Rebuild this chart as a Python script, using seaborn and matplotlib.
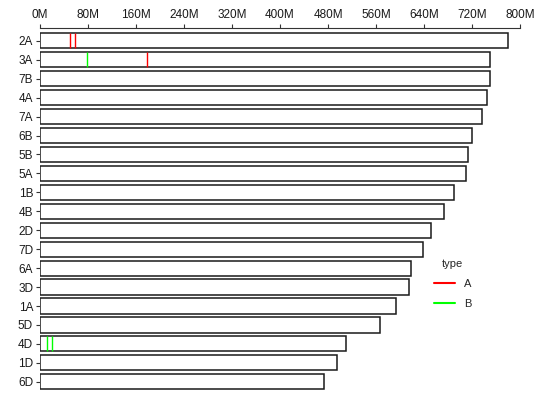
import matplotlib
matplotlib.use("Agg")
import matplotlib.pyplot as plt
from matplotlib.lines import Line2D
import pandas as pd
import seaborn as sns

# chromosome lengths in Mb, longest first
chroms = ['2A', '3A', '7B', '4A', '7A', '6B', '5B', '5A', '1B', '4B',
          '2D', '7D', '6A', '3D', '1A', '5D', '4D', '1D', '6D']
lengths = [780.8, 750.8, 750.6, 744.6, 737.0, 720.0, 713.1, 709.8, 689.9, 673.6,
           651.9, 638.7, 618.1, 615.6, 594.1, 566.1, 509.9, 495.5, 473.6]

# marked positions (Mb)
mark_chrom = ['2A', '2A', '3A', '3A', '4D', '4D']
mark_pos = [50.5, 58.5, 77.8, 177.8, 11.0, 20.5]
mark_type = ['A', 'A', 'B', 'A', 'B', 'B']

type_colors = {'A': '#FF0000', 'B': '#00FF00'}

chrDf = pd.DataFrame({'chrom': chroms, 'length': lengths})
markDf = pd.DataFrame({'chrom': mark_chrom, 'pos': mark_pos, 'type': mark_type})

sns.set_style('white')
plt.rcParams['font.family'] = ['Liberation Sans', 'DejaVu Sans']

fig = plt.figure(figsize=(5.45, 3.99), dpi=100)
ax = fig.add_axes([40 / 545, 1 - 394.6 / 399, 480 / 545, (394.6 - 28) / 399])

sns.barplot(data=chrDf, x='length', y='chrom', order=chroms, orient='h',
            color='white', saturation=1, edgecolor='#1a1a1a', linewidth=1.1,
            width=0.8, ax=ax)

# vertical marks spanning each chromosome bar
for _, row in markDf.iterrows():
    yi = chroms.index(row['chrom'])
    ax.vlines(row['pos'], yi - 0.4, yi + 0.4, color=type_colors[row['type']],
              linewidth=1.0, zorder=3)

ax.set_xlim(0, 800)
ax.set_ylim(len(chroms) - 1 + 0.676, -0.676)
ax.set_xticks(range(0, 801, 80))
ax.set_xticklabels([f'{v}M' for v in range(0, 801, 80)])
ax.xaxis.tick_top()
ax.set_xlabel('')
ax.set_ylabel('')

for side in ['left', 'right', 'bottom']:
    ax.spines[side].set_visible(False)
ax.spines['top'].set_color('#333333')
ax.spines['top'].set_linewidth(0.8)

ax.tick_params(axis='x', top=True, bottom=False, length=3, width=0.8,
               color='#333333', labelsize=8.5, labelcolor='#1a1a1a', pad=2)
ax.tick_params(axis='y', left=True, length=3, width=0.8, color='#333333',
               labelsize=8.5, labelcolor='#1a1a1a', pad=2)

handles = [Line2D([], [], color=type_colors[t], linewidth=1.5) for t in ['A', 'B']]
leg = ax.legend(handles, ['A', 'B'], title='type', frameon=False,
                loc='upper left', bbox_to_anchor=(434 / 545, 1 - 259 / 399),
                bbox_transform=fig.transFigure, borderpad=0, borderaxespad=0,
                handlelength=1.9, handletextpad=0.8, labelspacing=0.9,
                fontsize=8, title_fontsize=8)

fig.savefig('out.png', dpi=100)
